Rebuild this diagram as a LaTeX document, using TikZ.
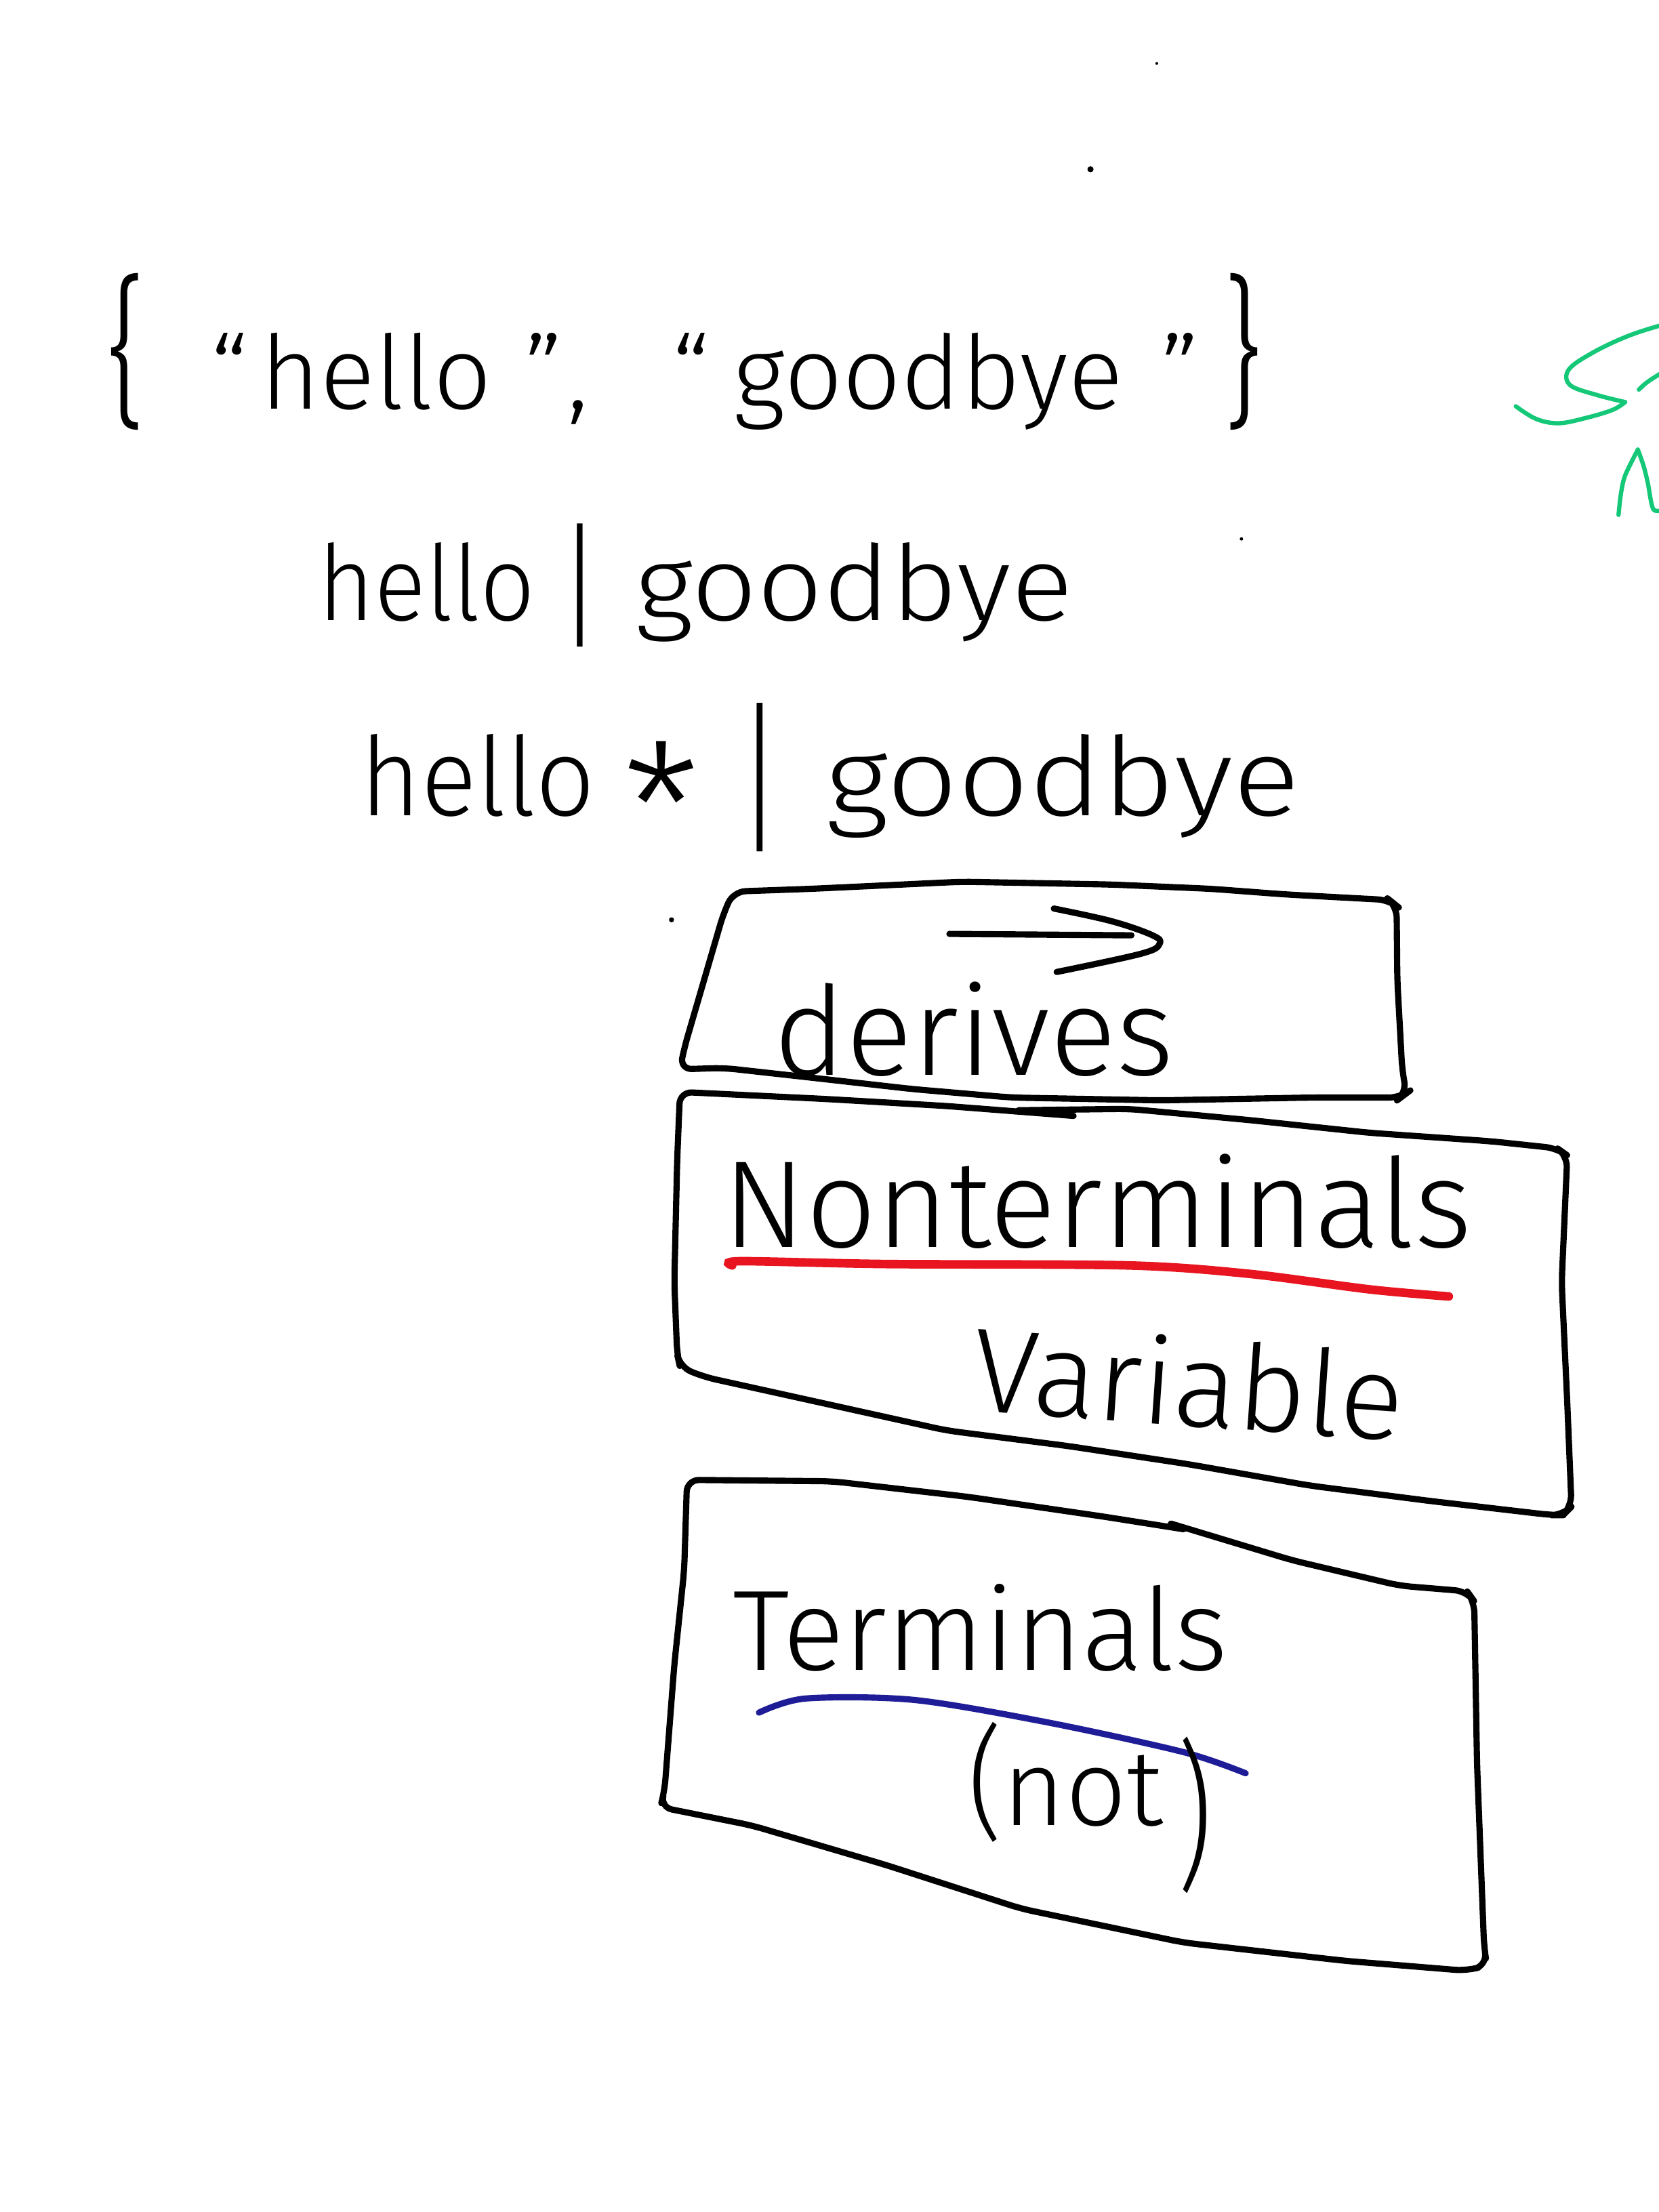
\documentclass[tikz,border=0pt]{standalone}
\usepackage{fontspec}
\usepackage{graphicx}
\setmainfont{Fira Sans}[UprightFont={* Light}]
\definecolor{inkred}{RGB}{232,20,32}
\definecolor{inkblue}{RGB}{30,28,150}
\definecolor{inkgreen}{RGB}{20,200,120}
\tikzset{
  ink/.style={line width=2.6pt, black, line cap=round, line join=round},
  boxline/.style={ink, rounded corners=5pt},
  hand/.style={inner sep=0pt, anchor=base west, text=black},
  redline/.style={line width=3.6pt, inkred, line cap=round},
  blueline/.style={line width=2.6pt, inkblue, line cap=round},
  greenline/.style={line width=1.8pt, inkgreen, line cap=round, line join=round},
  speck/.style={fill=black, draw=none}
}
\newcommand{\fsz}[1]{\fontsize{#1}{#1}\selectfont}
\begin{document}
\begin{tikzpicture}[x=0.020816cm, y=-0.020816cm]
\useasboundingbox[fill=white] (0,0) rectangle (1176,1568);

% ---- text lines at the top ----
\node[hand, font=\fsz{43pt}] (set) at (75,290)
  {\scalebox{1.2}[1.6]{\{}\hspace{27pt}“\hspace{5pt}hello\hspace{14pt}”\hspace{2pt},\hspace{35pt}“\hspace{10pt}goodbye\hspace{16pt}”\hspace{10pt}\scalebox{1.2}[1.6]{\}}};
\node[hand, font=\fsz{44pt}] (alt) at (225,440)
  {\scalebox{0.92}[1]{hello}\hspace{10pt}\raisebox{-0.12em}{\scalebox{1}[1.3]{|}}\hspace{14pt}\scalebox{1.1}[1]{goodbye}};
\node[hand, font=\fsz{46pt}] (star) at (255,578)
  {\scalebox{0.95}[1]{hello}\hspace{12pt}\raisebox{-0.5em}{\scalebox{1.6}{*}}\hspace{16pt}\raisebox{-0.18em}{\scalebox{1}[1.5]{|}}\hspace{18pt}\scalebox{1.14}[1]{goodbye}};

% ---- box 1 : derives ----
\draw[boxline] (520,632) -- (576,630) -- (682,625) -- (788,627) -- (858,630) -- (911,634)
  -- (985,638) -- (990,642) -- (990.5,695) -- (994,759) -- (997,775) -- (993,778)
  -- (929,778) -- (823,780) -- (717,778) -- (647,772) -- (576,764) -- (513,757)
  -- (482,758) -- (485,743) -- (499,695) -- (513,647) -- cycle;
\coordinate (arrS) at (673,662);
\coordinate (arrE) at (802,663);
\draw[ink] (arrS) -- (arrE);
\draw[ink] plot[smooth, tension=0.6] coordinates {(747,644) (788,653) (817,663) (822,669) (809,676) (749,689)};
\node[hand, font=\fsz{52pt}] (derives) at (548,762) {derives};

% ---- box 2 : Nonterminals ----
\draw[boxline] (761,791) -- (671,784) -- (585,779) -- (482,774) -- (480,823) -- (478,909)
  -- (480,960) -- (482,969) -- (499,976) -- (585,995) -- (671,1014) -- (757,1025)
  -- (843,1038) -- (928,1053) -- (1014,1064) -- (1100,1074) -- (1108,1074) -- (1114,1068)
  -- (1111,995) -- (1107,909) -- (1111,819) -- (1104,814) -- (1057,809) -- (971,803)
  -- (886,794) -- (800,786) -- (722,787);
\node[hand, font=\fsz{52pt}] (nonterm) at (512,884) {Nonterminals};
\draw[redline] plot[smooth] coordinates {(519,897) (525,894) (628,896) (800,897) (886,903) (971,914) (1027,919)};
\node[hand, font=\fsz{50pt}, rotate=-4] (variable) at (688,1000) {Variable};

% ---- box 3 : Terminals ----
\draw[boxline] (839,1084) -- (782,1075) -- (686,1061) -- (590,1050) -- (487,1049) -- (485,1113)
  -- (478,1180) -- (471,1270) -- (468,1281) -- (533,1294) -- (628,1322) -- (724,1353)
  -- (839,1377) -- (954,1390) -- (1040,1397) -- (1054,1393) -- (1052,1380) -- (1047,1250)
  -- (1045,1135) -- (1040,1128) -- (992,1124) -- (916,1106) -- (830,1080);
\node[hand, font=\fsz{48pt}] (term) at (519,1184) {Terminals};
\draw[blueline] plot[smooth] coordinates {(538,1214) (571,1204) (648,1205) (743,1221) (839,1242) (883,1257)};
\node[hand, font=\fsz{45pt}] (not) at (686,1294)
  {\scalebox{1}[1.15]{(}not\hspace{6pt}\raisebox{-0.43em}{\scalebox{1}[1.5]{)}}};

% ---- green fragments cut by the right edge ----
\draw[greenline] plot[smooth, tension=0.6] coordinates {(1190,228) (1176,231) (1153,238.6) (1129,250) (1112,262) (1113,273) (1132,280) (1152,285)};
\draw[greenline] plot[smooth, tension=0.6] coordinates {(1152,285) (1143,290.6) (1124,296.3) (1105,300) (1089,297) (1074.5,288)};
\draw[greenline] (1161.7,276.2) .. controls (1167,271) .. (1180,263);
\draw[greenline] plot[smooth, tension=0.5] coordinates {(1147.3,365) (1149,350) (1152,337) (1161,318.7)};
\draw[greenline] plot[smooth, tension=0.5] coordinates {(1161,318.7) (1165,330) (1168,342) (1172,361) (1180,361)};

% ---- specks ----
\fill[speck] (773,120) circle (2.2);
\fill[speck] (476,652) circle (1.8);
\fill[speck] (880,382) circle (1.2);
\fill[speck] (820,45) circle (1);
\end{tikzpicture}
\end{document}
